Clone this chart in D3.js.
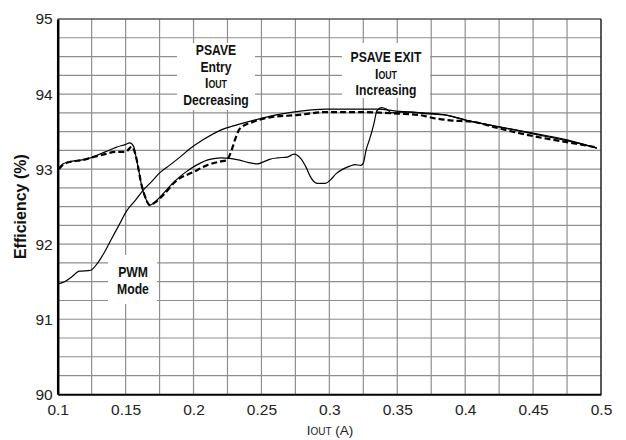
<!DOCTYPE html>
<html><head><meta charset="utf-8">
<script src="https://cdn.jsdelivr.net/npm/d3@7"></script>
<style>body{margin:0;background:#fff}svg{display:block}</style>
</head><body>
<script>
// ---- data ----
const xTicks = [0.1,0.15,0.2,0.25,0.3,0.35,0.4,0.45,0.5];
const xTickLabels = ["0.1","0.15","0.2","0.25","0.3","0.35","0.4","0.45","0.5"];
const yTicks = [90,91,92,93,94,95];

const pwmX = [0.100,0.105,0.110,0.116,0.124,0.129,0.134,0.139,0.145,0.151,0.157,0.163,0.170,0.175,0.183,0.190,0.198,0.207,0.220,0.232,0.242,0.255,0.273,0.298,0.320,0.335,0.352,0.370,0.386,0.401,0.426,0.450,0.475,0.497];
const pwmY = [91.47,91.50,91.56,91.64,91.65,91.74,91.88,92.05,92.25,92.45,92.58,92.72,92.85,92.95,93.06,93.16,93.28,93.39,93.52,93.59,93.64,93.70,93.76,93.80,93.80,93.80,93.77,93.75,93.72,93.65,93.56,93.48,93.39,93.28];

const exitX = [0.101,0.104,0.109,0.117,0.124,0.135,0.143,0.150,0.153,0.156,0.158,0.160,0.162,0.165,0.168,0.172,0.178,0.184,0.190,0.195,0.200,0.205,0.210,0.215,0.220,0.228,0.234,0.240,0.247,0.252,0.256,0.262,0.269,0.274,0.279,0.283,0.286,0.291,0.297,0.301,0.305,0.310,0.315,0.319,0.323,0.325,0.327,0.330,0.333,0.335,0.3385,0.342,0.346,0.352,0.360,0.370,0.386,0.401,0.426,0.450,0.475,0.497];
const exitY = [93.02,93.07,93.10,93.12,93.15,93.23,93.29,93.33,93.35,93.30,93.13,92.95,92.76,92.60,92.52,92.57,92.68,92.80,92.90,92.97,93.03,93.08,93.12,93.14,93.15,93.14,93.12,93.09,93.07,93.10,93.13,93.15,93.16,93.20,93.14,93.02,92.90,92.81,92.81,92.86,92.94,93.00,93.04,93.06,93.05,93.08,93.25,93.42,93.62,93.78,93.82,93.80,93.75,93.76,93.76,93.74,93.72,93.65,93.56,93.47,93.38,93.28];

const entryX = [0.101,0.104,0.110,0.118,0.126,0.135,0.142,0.150,0.1545,0.157,0.159,0.161,0.164,0.168,0.172,0.178,0.1876,0.1998,0.2097,0.2195,0.2244,0.228,0.2305,0.2342,0.244,0.2563,0.276,0.298,0.3226,0.3496,0.3667,0.3766,0.389,0.4058,0.4255,0.450,0.4748,0.497];
const entryY = [93.00,93.06,93.10,93.12,93.16,93.20,93.23,93.23,93.30,93.21,93.05,92.85,92.65,92.52,92.56,92.66,92.85,92.96,93.05,93.10,93.12,93.25,93.39,93.54,93.63,93.69,93.72,93.76,93.76,93.74,93.72,93.68,93.65,93.63,93.54,93.44,93.36,93.29];

// ---- layout ----
const W = 626, H = 440;
const m = {l:57.7, r:W-601, t:19, b:H-394.3};
const svg = d3.select("body").append("svg").attr("width",W).attr("height",H);
const x = d3.scaleLinear().domain([0.1,0.5]).range([m.l, W-m.r]);
const y = d3.scaleLinear().domain([90,95]).range([H-m.b, m.t]);

// grid
const g = svg.append("g");
g.selectAll("line.v").data(d3.range(1,16).map(i=>0.1+i*0.025)).join("line")
  .attr("x1",d=>x(d)).attr("x2",d=>x(d)).attr("y1",y(90)).attr("y2",y(95))
  .attr("stroke","#8f8f8f").attr("stroke-width",1.2);
g.selectAll("line.h").data(d3.range(1,20).map(i=>90+i*0.25)).join("line")
  .attr("y1",d=>y(d)).attr("y2",d=>y(d)).attr("x1",x(0.1)).attr("x2",x(0.5))
  .attr("stroke","#8f8f8f").attr("stroke-width",1.2);

// annotation boxes (white, cut grid)
svg.append("rect").attr("x",177).attr("y",43).attr("width",78).attr("height",67).attr("fill","#fff");
svg.append("rect").attr("x",342).attr("y",43).attr("width",88).attr("height",55).attr("fill","#fff");
svg.append("rect").attr("x",108).attr("y",255).attr("width",49).attr("height",49).attr("fill","#fff");

// frame
svg.append("line").attr("x1",x(0.1)).attr("x2",x(0.5)).attr("y1",y(95)).attr("y2",y(95)).attr("stroke","#555").attr("stroke-width",1.5);
svg.append("line").attr("x1",x(0.5)).attr("x2",x(0.5)).attr("y1",y(95)).attr("y2",y(90)).attr("stroke","#222").attr("stroke-width",1.5);

// curves
const line = (xs,ys)=>d3.line().x((d,i)=>x(xs[i])).y((d,i)=>y(ys[i])).curve(d3.curveMonotoneX)(xs);
svg.append("path").attr("d",line(pwmX,pwmY)).attr("fill","none").attr("stroke","#000").attr("stroke-width",1.2);
svg.append("path").attr("d",line(entryX,entryY)).attr("fill","none").attr("stroke","#000").attr("stroke-width",2.2).attr("stroke-dasharray","6,3");
svg.append("path").attr("d",line(exitX,exitY)).attr("fill","none").attr("stroke","#000").attr("stroke-width",1.2);

// axes
const xAxis = d3.axisBottom(x).tickValues(xTicks).tickFormat((d,i)=>xTickLabels[i]).tickSize(0).tickPadding(10);
const xa = svg.append("g").attr("transform",`translate(0,${y(90)})`).call(xAxis);
xa.select(".domain").attr("stroke","#000").attr("stroke-width",2);
xa.selectAll("text").attr("font-family","Liberation Sans, Arial, sans-serif").attr("font-size",15.5).attr("fill","#222");
const yAxis = d3.axisLeft(y).tickValues(yTicks).tickFormat(d3.format("d")).tickSize(0).tickPadding(5);
const ya = svg.append("g").attr("transform",`translate(${x(0.1)},0)`).call(yAxis);
ya.select(".domain").attr("stroke","#000").attr("stroke-width",2.5);
ya.selectAll("text").attr("font-family","Liberation Sans, Arial, sans-serif").attr("font-size",15.5).attr("fill","#222");

// axis titles
svg.append("text").attr("transform",`translate(26,${(y(90)+y(95))/2}) rotate(-90)`)
  .attr("text-anchor","middle").attr("font-family","Liberation Sans, Arial, sans-serif")
  .attr("font-weight","bold").attr("font-size",16).attr("fill","#111").text("Efficiency (%)");
const xt = svg.append("text").attr("x",330).attr("y",435).attr("text-anchor","middle")
  .attr("font-family","Liberation Sans, Arial, sans-serif").attr("font-size",13.5).attr("fill","#222");
xt.append("tspan").text("I");
xt.append("tspan").attr("font-size",10).text("OUT");
xt.append("tspan").text(" (A)");

// annotations
const annFont = "'Liberation Sans', Arial, sans-serif";
function ann(cx, y0, lines, gap){
  lines.forEach((ln,i)=>{
    const t = svg.append("text").attr("transform",`translate(${cx},${y0+i*gap}) scale(0.84,1)`)
      .attr("text-anchor","middle")
      .attr("font-family",annFont).attr("font-weight","bold").attr("font-size",14.5).attr("fill","#111");
    if(ln==="IOUT"){
      t.append("tspan").text("I");
      t.append("tspan").attr("font-size",10.5).text("OUT");
    } else t.text(ln);
  });
}
ann(216, 55, ["PSAVE","Entry","IOUT","Decreasing"], 16.5);
ann(386, 62, ["PSAVE EXIT","IOUT","Increasing"], 16.5);
ann(133, 277, ["PWM","Mode"], 16.5);
</script>
</body></html>
